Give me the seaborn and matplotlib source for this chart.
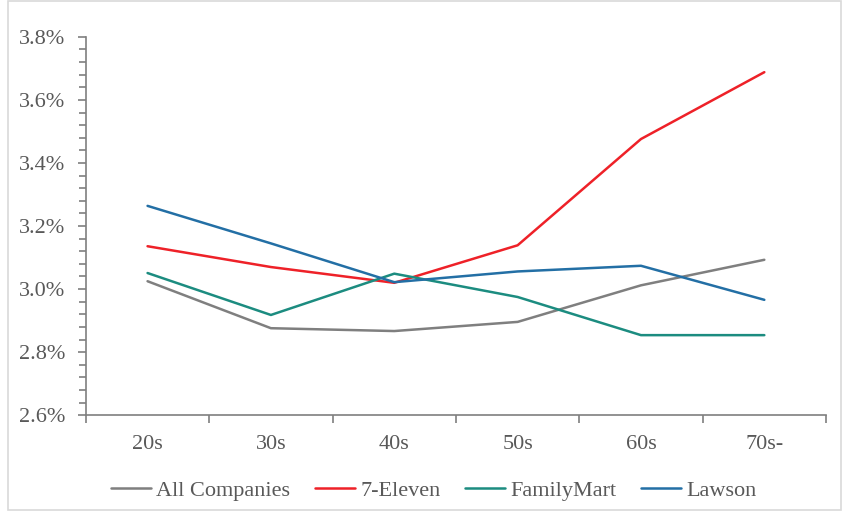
import pandas as pd
import seaborn as sns
import matplotlib.pyplot as plt
from matplotlib.ticker import FuncFormatter, MultipleLocator, FixedLocator

ages = ['20s', '30s', '40s', '50s', '60s', '70s-']
all_companies = [3.025, 2.876, 2.867, 2.896, 3.012, 3.093]
seven_eleven = [3.136, 3.070, 3.020, 3.139, 3.476, 3.688]
familymart = [3.051, 2.918, 3.049, 2.975, 2.854, 2.854]
lawson = [3.264, 3.145, 3.022, 3.056, 3.074, 2.966]

series = {
    'All Companies': all_companies,
    '7-Eleven': seven_eleven,
    'FamilyMart': familymart,
    'Lawson': lawson,
}
colors = ['#7f7f7f', '#ee2128', '#1c8c80', '#236fa5']

df = pd.concat(
    [pd.DataFrame({'age': ages, 'rate': vals, 'company': name}) for name, vals in series.items()],
    ignore_index=True,
)

sns.set_style('white')
plt.rcParams['font.family'] = ['Liberation Serif', 'DejaVu Serif']

fig = plt.figure(figsize=(8.42, 5.12), dpi=100)
ax = fig.add_axes([0.102, 0.189, 0.879, 0.739])

sns.lineplot(data=df, x='age', y='rate', hue='company', palette=colors,
             sort=False, linewidth=1.8, ax=ax)

ax.set_xlim(-0.5, 5.5)
ax.set_ylim(2.6, 3.8)
ax.yaxis.set_major_locator(MultipleLocator(0.2))
ax.yaxis.set_minor_locator(MultipleLocator(0.04))
ax.yaxis.set_major_formatter(FuncFormatter(lambda v, p: f'{v:.1f}%'))
ax.xaxis.set_minor_locator(FixedLocator([i - 0.5 for i in range(len(ages) + 1)]))

grey = '#7f7f7f'
for side in ['top', 'right']:
    ax.spines[side].set_visible(False)
for side in ['left', 'bottom']:
    ax.spines[side].set_color(grey)
    ax.spines[side].set_linewidth(1.2)

ax.tick_params(axis='y', which='major', direction='out', length=6, width=1.2,
               color=grey, labelcolor='#595959', labelsize=16, left=True, pad=9)
ax.tick_params(axis='y', which='minor', direction='out', length=5, width=1.2,
               color=grey, left=True)
ax.tick_params(axis='x', which='major', length=0, labelcolor='#595959',
               labelsize=16, pad=14)
ax.tick_params(axis='x', which='minor', direction='out', length=6, width=1.2,
               color=grey, bottom=True)

ax.set_xlabel('')
ax.set_ylabel('')

leg = ax.legend(loc='upper center', bbox_to_anchor=(0.47, -0.12), ncol=4,
                frameon=False, fontsize=16, handlelength=1.8, columnspacing=1.1,
                handletextpad=0.25)
for t in leg.get_texts():
    t.set_color('#595959')

fig.patches.append(plt.Rectangle((0.009, 0.004), 0.99, 0.994, transform=fig.transFigure,
                                 fill=False, edgecolor='#d9d9d9', linewidth=1.2))

fig.savefig('out.png', dpi=100)
